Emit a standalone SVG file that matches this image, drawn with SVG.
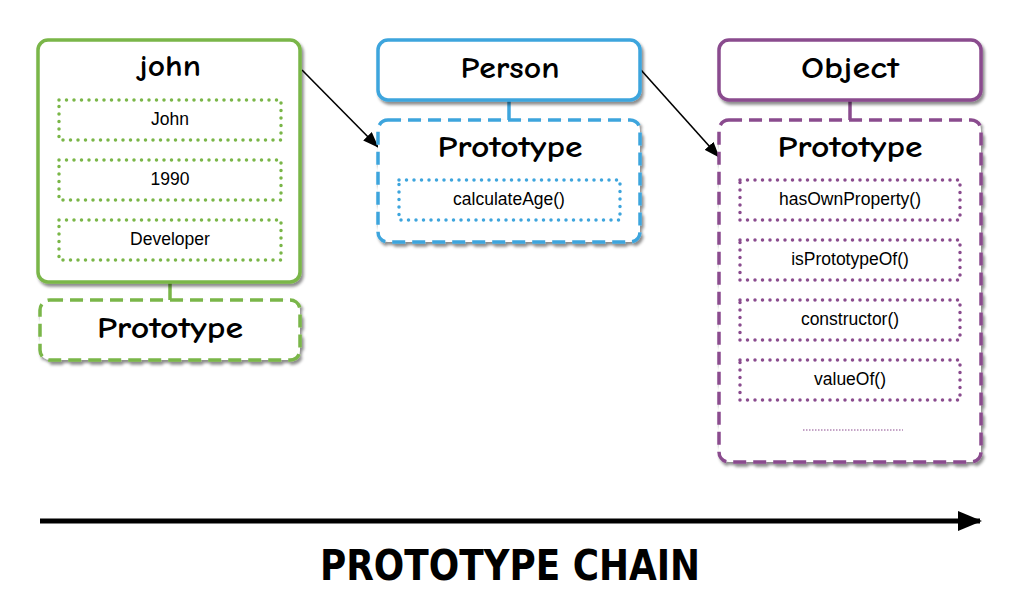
<svg xmlns="http://www.w3.org/2000/svg" width="1020" height="600" viewBox="0 0 1020 600">
<defs>
<filter id="sh" x="-10%" y="-10%" width="120%" height="130%">
<feDropShadow dx="2" dy="3" stdDeviation="1.5" flood-color="#000" flood-opacity="0.45"/>
</filter>
<marker id="ah" markerWidth="16" markerHeight="12" refX="15" refY="6" orient="auto" markerUnits="userSpaceOnUse" viewBox="0 0 16 12">
<path d="M0,0 L16,6 L0,12 Z" fill="#000"/>
</marker>
<marker id="ah2" markerWidth="24" markerHeight="20" refX="22" refY="10" orient="auto" markerUnits="userSpaceOnUse" viewBox="0 0 24 20">
<path d="M0,0 L24,10 L0,20 Z" fill="#000"/>
</marker>
</defs>
<style>
.title{font-family:"Comic Sans MS","Comic Neue","DejaVu Sans",sans-serif;font-size:30px;font-weight:bold;fill:#000;text-anchor:middle;dominant-baseline:central}
.item{font-family:"Liberation Sans",Arial,sans-serif;font-size:17.5px;fill:#000;text-anchor:middle;dominant-baseline:central}
.solid{fill:#fff;stroke-width:3.5}
.dash{fill:#fff;stroke-width:3.5;stroke-dasharray:13 7}
.dot{fill:none;stroke-width:3.5;stroke-dasharray:0 7.5;stroke-linecap:round}
.g{stroke:#7ab648}
.b{stroke:#3ea5dd}
.p{stroke:#8a4b8e}
.link{stroke-width:3.5}
</style>
<rect width="1020" height="600" fill="#fff"/>
<g id="links">
<line class="link g" x1="170" y1="282" x2="170" y2="300"/>
<line class="link b" x1="509" y1="100" x2="509" y2="120"/>
<line class="link p" x1="850" y1="100" x2="850" y2="120"/>
<line x1="302" y1="70" x2="378" y2="147" stroke="#000" stroke-width="1.6" marker-end="url(#ah)"/>
<line x1="641" y1="70" x2="719" y2="157" stroke="#000" stroke-width="1.6" marker-end="url(#ah)"/>
<line x1="40" y1="521" x2="980" y2="521" stroke="#000" stroke-width="5" marker-end="url(#ah2)"/>
</g>
<g id="john">
<rect class="solid g" x="38" y="40" width="262" height="242" rx="10" filter="url(#sh)"/>
<text class="title" x="170" y="66" textLength="62" lengthAdjust="spacingAndGlyphs">john</text>
<rect class="dot g" x="59" y="100" width="222" height="40"/>
<text class="item" x="170" y="119">John</text>
<rect class="dot g" x="59" y="160" width="222" height="40"/>
<text class="item" x="170" y="179">1990</text>
<rect class="dot g" x="59" y="220" width="222" height="40"/>
<text class="item" x="170" y="239">Developer</text>
</g>
<g id="john-proto">
<rect class="dash g" x="40" y="300" width="260" height="60" rx="10" filter="url(#sh)"/>
<text class="title" x="170" y="328" textLength="146" lengthAdjust="spacingAndGlyphs">Prototype</text>
</g>
<g id="person">
<rect class="solid b" x="378" y="40" width="262" height="60" rx="10" filter="url(#sh)"/>
<text class="title" x="510" y="68" textLength="99" lengthAdjust="spacingAndGlyphs">Person</text>
</g>
<g id="person-proto">
<rect class="dash b" x="378" y="120" width="262" height="122" rx="10" filter="url(#sh)"/>
<text class="title" x="510" y="147" textLength="145" lengthAdjust="spacingAndGlyphs">Prototype</text>
<rect class="dot b" x="399" y="180" width="221" height="40"/>
<text class="item" x="509" y="199">calculateAge()</text>
</g>
<g id="object">
<rect class="solid p" x="719" y="40" width="262" height="60" rx="10" filter="url(#sh)"/>
<text class="title" x="850" y="68" textLength="98" lengthAdjust="spacingAndGlyphs">Object</text>
</g>
<g id="object-proto">
<rect class="dash p" x="719" y="120" width="262" height="342" rx="10" filter="url(#sh)"/>
<text class="title" x="850" y="147" textLength="145" lengthAdjust="spacingAndGlyphs">Prototype</text>
<rect class="dot p" x="740" y="180" width="220" height="40"/>
<text class="item" x="850" y="199">hasOwnProperty()</text>
<rect class="dot p" x="740" y="240" width="220" height="40"/>
<text class="item" x="850" y="259">isPrototypeOf()</text>
<rect class="dot p" x="740" y="300" width="220" height="40"/>
<text class="item" x="850" y="319">constructor()</text>
<rect class="dot p" x="740" y="360" width="220" height="40"/>
<text class="item" x="850" y="379">valueOf()</text>
<line x1="803" y1="430" x2="903" y2="430" stroke="#8a4b8e" stroke-width="1" stroke-dasharray="1.5 1.5"/>
</g>
<g id="chain-label">
<text x="510" y="565" font-family="'Comic Sans MS','DejaVu Sans Condensed','DejaVu Sans',sans-serif" font-size="42" font-weight="bold" text-anchor="middle" dominant-baseline="central" textLength="380" lengthAdjust="spacingAndGlyphs">PROTOTYPE CHAIN</text>
</g>
</svg>
